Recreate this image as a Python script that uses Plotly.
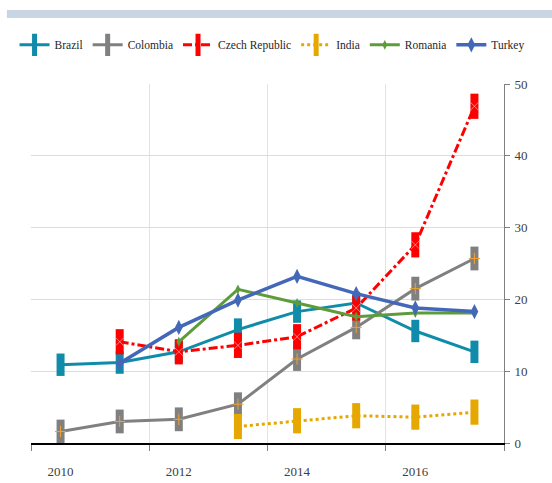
import plotly.graph_objects as go

years = [2010, 2011, 2012, 2013, 2014, 2015, 2016, 2017]

brazil = [10.9, 11.2, 12.7, 15.8, 18.3, 19.5, 15.6, 12.7]
colombia = [1.6, 3.0, 3.3, 5.4, 11.7, 16.1, 21.5, 25.7]
czech = [None, 14.1, 12.7, 13.6, 14.8, 18.8, 27.6, 46.9]
india = [None, None, None, 2.3, 3.1, 3.8, 3.6, 4.3]
romania = [None, None, 14.1, 21.4, 19.5, 17.6, 18.1, 18.1]
turkey = [None, 11.1, 16.1, 19.9, 23.2, 20.8, 18.8, 18.3]

year_labels = ["2010", "2012", "2014", "2016"]
year_ticks = [2010, 2012, 2014, 2016]

FONT = "Liberation Serif"

fig = go.Figure()

def bar_marker(color, size=17, width=8):
    # tall rectangular marker drawn as a thick vertical stroke
    return dict(symbol="line-ns-open", size=size, color=color,
                line=dict(color=color, width=width))

fig.add_trace(go.Scatter(
    x=years, y=brazil, name="Brazil", mode="lines+markers",
    line=dict(color="#108caa", width=3),
    marker=bar_marker("#108caa", 16, 8)))

fig.add_trace(go.Scatter(
    x=years, y=colombia, name="Colombia", mode="lines+markers",
    line=dict(color="#808080", width=3),
    marker=bar_marker("#808080", 17, 8)))
fig.add_trace(go.Scatter(
    x=years, y=colombia, mode="markers", showlegend=False, hoverinfo="skip",
    marker=dict(symbol="cross-thin-open", size=8, color="#f0a030",
                line=dict(color="#f0a030", width=1))))

fig.add_trace(go.Scatter(
    x=years, y=czech, name="Czech Republic", mode="lines+markers",
    line=dict(color="#ff0000", width=3, dash="dashdot"),
    marker=bar_marker("#ff0000", 18, 8)))
fig.add_trace(go.Scatter(
    x=years, y=czech, mode="markers", showlegend=False, hoverinfo="skip",
    marker=dict(symbol="x-thin-open", size=8, color="rgba(255,190,190,0.8)",
                line=dict(color="rgba(255,190,190,0.8)", width=0.8))))

fig.add_trace(go.Scatter(
    x=years, y=india, name="India", mode="lines+markers",
    line=dict(color="#e6a800", width=3, dash="dot"),
    marker=bar_marker("#e6a800", 18, 8)))

fig.add_trace(go.Scatter(
    x=years, y=romania, name="Romania", mode="lines+markers",
    line=dict(color="#5e9b3b", width=3),
    marker=dict(symbol="diamond-tall", size=7, color="#5e9b3b")))

fig.add_trace(go.Scatter(
    x=years, y=turkey, name="Turkey", mode="lines+markers",
    line=dict(color="#4468b8", width=3.5),
    marker=dict(symbol="diamond-tall", size=11, color="#4468b8")))

fig.update_layout(
    width=552, height=483,
    margin=dict(l=31, r=48, t=84, b=40, autoexpand=False),
    paper_bgcolor="white", plot_bgcolor="white",
    font=dict(family=FONT, size=13, color="#404040"),
    showlegend=True,
    legend=dict(orientation="h", x=1.054, xanchor="right", y=1.109, yanchor="middle",
                font=dict(family=FONT, size=11.5, color="#262626"),
                itemwidth=30, tracegroupgap=0, bgcolor="rgba(0,0,0,0)"),
    xaxis=dict(range=[2009.5, 2017.5], tickmode="array", tickvals=year_ticks,
               ticktext=year_labels, ticks="", showgrid=False, zeroline=False,
               showline=True, linecolor="#000000", linewidth=1.5,
               ticklabelstandoff=16,
               tickfont=dict(family=FONT, size=13, color="#404040"),
               minor=dict(tick0=2009.5, dtick=2, ticks="outside", ticklen=6,
                          tickcolor="#808080", showgrid=True,
                          gridcolor="#e3e3e3", gridwidth=1)),
    yaxis=dict(range=[0, 50], side="right", dtick=10, ticks="outside",
               ticklen=5, tickcolor="#808080", showline=True,
               linecolor="#808080", linewidth=1, showgrid=True,
               gridcolor="#dcdcdc", zeroline=False, ticklabelstandoff=2,
               tickfont=dict(family=FONT, size=13, color="#404040")),
    shapes=[dict(type="rect", xref="paper", yref="paper",
                 x0=-0.051, x1=1.2, y0=1 + (84 - 18) / 359, y1=1 + (84 - 10) / 359,
                 fillcolor="#c9d5e3", line=dict(width=0), layer="below")],
)

fig.write_html("out.html")
